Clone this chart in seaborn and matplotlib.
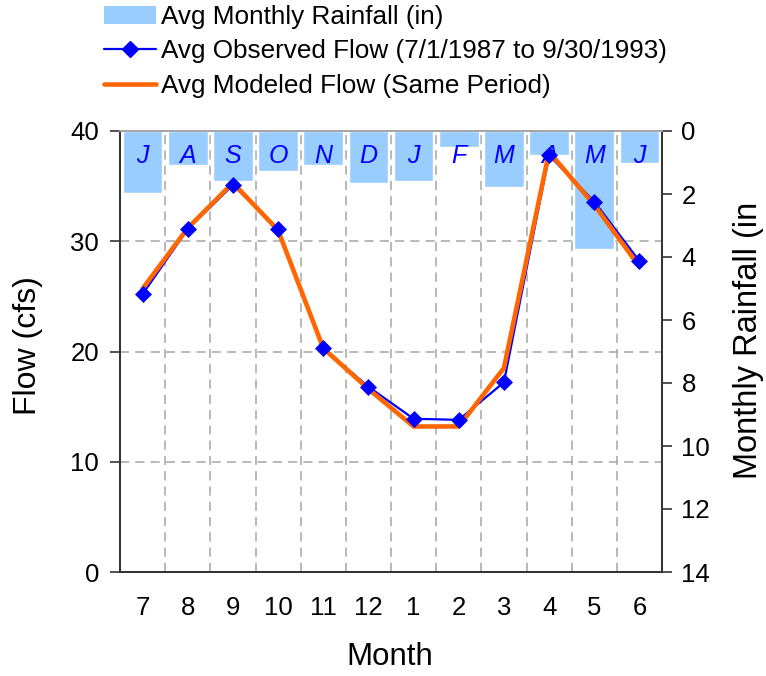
import numpy as np
import pandas as pd
import matplotlib
matplotlib.use("Agg")
import matplotlib.pyplot as plt
import seaborn as sns
from matplotlib.lines import Line2D
from matplotlib.patches import Patch

# données
months = ['7', '8', '9', '10', '11', '12', '1', '2', '3', '4', '5', '6']
month_letters = ['J', 'A', 'S', 'O', 'N', 'D', 'J', 'F', 'M', 'A', 'M', 'J']
rainfall = [1.96, 1.07, 1.58, 1.26, 1.07, 1.64, 1.58, 0.50, 1.77, 0.75, 3.74, 1.00]
observed = [25.2, 31.1, 35.1, 31.1, 20.3, 16.8, 13.9, 13.8, 17.2, 37.8, 33.6, 28.2]
modeled = [25.7, 31.2, 35.3, 31.0, 20.3, 16.6, 13.2, 13.2, 18.5, 38.1, 33.3, 27.7]

flow_ticks = [0, 10, 20, 30, 40]
rain_ticks = [0, 2, 4, 6, 8, 10, 12, 14]

df = pd.DataFrame({'month': months, 'pos': np.arange(len(months)),
                   'rain': rainfall, 'obs': observed, 'mod': modeled})

sns.set_style("white")
plt.rcParams['font.family'] = ['Liberation Sans', 'DejaVu Sans']
plt.rcParams['text.color'] = 'black'
plt.rcParams['xtick.color'] = 'black'
plt.rcParams['ytick.color'] = 'black'

W, H = 766, 676
fig = plt.figure(figsize=(W / 100, H / 100), dpi=100)
ax = fig.add_axes([120 / W, 1 - 572 / H, 542 / W, 441 / H])
ax2 = ax.twinx()

# barres de pluie (axe de droite, inversé)
sns.barplot(data=df, x='month', y='rain', order=months, ax=ax2, color='#99CCFF',
            saturation=1, width=0.88, zorder=2)
ax2.set_ylim(14, 0)
ax2.set_yticks(rain_ticks)
ax2.set_ylabel('')
ax2.set_xlabel('')

# grille sous les barres
grid_kw = dict(color='#A6A6A6', lw=1.1, ls=(0, (6, 4)), zorder=0.5)
for f in flow_ticks[1:-1]:
    ax2.axhline(f * 14 / 40, **grid_kw)
for i in range(len(months) - 1):
    ax2.axvline(i + 0.5, **grid_kw)

for i, letter in enumerate(month_letters):
    ax2.text(i, 0.8, letter, ha='center', va='center', color='#0000FF',
             style='italic', fontsize=18, zorder=3)

# débits (axe de gauche, au-dessus)
ax.set_zorder(ax2.get_zorder() + 1)
ax.patch.set_visible(False)
sns.lineplot(data=df, x='pos', y='obs', ax=ax, color='#0000FF', lw=1.6, zorder=2)
sns.lineplot(data=df, x='pos', y='mod', ax=ax, color='#FF6600', lw=3.3, zorder=3)
sns.scatterplot(data=df, x='pos', y='obs', ax=ax, marker='D', s=75, color='#0000FF',
                edgecolor='#0000FF', linewidth=0, zorder=4)

ax.set_ylim(0, 40)
ax.set_yticks(flow_ticks)
ax.set_xlim(-0.5, len(months) - 0.5)
ax.set_xticks(np.arange(len(months)))
ax.set_xticklabels(months)
ax.set_xticks(np.arange(len(months) + 1) - 0.5, minor=True)
ax.set_xlabel('')
ax.set_ylabel('')

ax.tick_params(axis='x', which='major', length=0, pad=17, labelsize=18.5)
ax.tick_params(axis='x', which='minor', length=7, width=1.2, direction='out', color='#333333')
ax.tick_params(axis='y', length=7, width=1.2, direction='out', pad=8, labelsize=18.5, color='#333333')
ax2.tick_params(axis='y', length=7, width=1.2, direction='out', pad=7, labelsize=18.5, color='#333333')
ax2.tick_params(axis='x', length=0, labelbottom=False)

for a in (ax, ax2):
    for s in ('left', 'right', 'bottom'):
        a.spines[s].set_color('#333333')
        a.spines[s].set_linewidth(1.3)
    a.spines['top'].set_color('#A6A6A6')
    a.spines['top'].set_linewidth(1.3)

fig.text(28 / W, 1 - 346 / H, 'Flow (cfs)', rotation=90, ha='center', va='center', fontsize=23)
fig.text(390 / W, 1 - 657 / H, 'Month', ha='center', va='center', fontsize=22.5)
fig.text(749 / W, 1 - 340 / H, 'Monthly Rainfall (in', rotation=90, ha='center', va='center', fontsize=23.5)

handles = [Patch(facecolor='#99CCFF', edgecolor='none'),
           Line2D([], [], color='#0000FF', lw=1.6, marker='D', markersize=8),
           Line2D([], [], color='#FF6600', lw=3.3)]
labels = ['Avg Monthly Rainfall (in)',
          'Avg Observed Flow (7/1/1987 to 9/30/1993)',
          'Avg Modeled Flow (Same Period)']
fig.legend(handles, labels, loc='upper left', bbox_to_anchor=(104 / W, 1 - 5 / H),
           frameon=False, fontsize=18.8, handlelength=2.0, handletextpad=0.2,
           labelspacing=0.4, borderpad=0, borderaxespad=0)

fig.savefig('out.png', dpi=100)
